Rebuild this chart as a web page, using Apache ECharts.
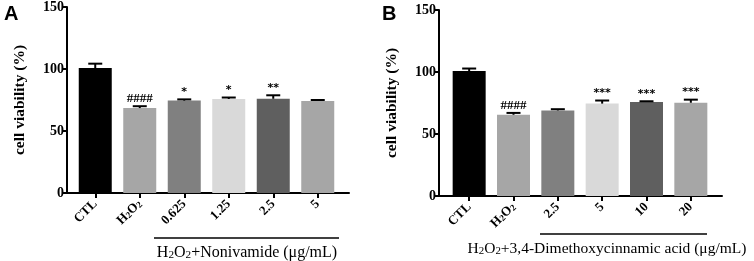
<!DOCTYPE html>
<html>
<head>
<meta charset="utf-8">
<script src="https://cdn.jsdelivr.net/npm/echarts@6/dist/echarts.min.js"></script>
<style>
  html, body { margin: 0; padding: 0; background: #fff; }
  #chart { width: 754px; height: 261px; }
</style>
</head>
<body>
<div id="chart"></div>
<script>
// panel A: nonivamide
var catsA = ['CTL', 'H2O2', '0.625', '1.25', '2.5', '5'];
var valsA = [100.8, 68.5, 74.5, 75.8, 76, 74.2];
var errsA = [3.5, 1.5, 1, 1.2, 2.8, 0.8];
var sigA = ['', '####', '*', '*', '**', ''];

// panel B: 3,4-dimethoxycinnamic acid
var catsB = ['CTL', 'H2O2', '2.5', '5', '10', '20'];
var valsB = [100.8, 65.5, 69, 74.5, 75.8, 75.2];
var errsB = [2, 1.5, 1, 2.5, 0.6, 2.5];
var sigB = ['', '####', '', '***', '***', '***'];

var yTicks = [0, 50, 100, 150];
var barColors = ['#000000', '#a6a6a6', '#808080', '#d9d9d9', '#5f5f5f', '#a6a6a6'];

var serif = '"Liberation Serif", "Times New Roman", serif';

function catLabel(v) {
    if (v === 'H2O2') return '{b|H}{s|2}{b|O}{s|2}';
    return '{b|' + v + '}';
}
var labelRich = {
    b: { fontFamily: serif, fontWeight: 'bold', fontSize: 13, color: '#000' },
    s: { fontFamily: serif, fontWeight: 'bold', fontSize: 9, color: '#000', verticalAlign: 'bottom' }
};

function frameAxes(gridIdx) {
    return {
        x: {
            type: 'value', gridIndex: gridIdx, min: 0, max: 1,
            axisLine: { show: true, onZero: false, lineStyle: { color: '#000', width: 2 } },
            axisTick: { show: false }, axisLabel: { show: false }, splitLine: { show: false }
        },
        y: {
            type: 'value', gridIndex: gridIdx, min: yTicks[0], max: yTicks[yTicks.length - 1], interval: 50,
            name: 'cell viability (%)', nameLocation: 'middle', nameGap: 39, nameRotate: 90,
            nameTextStyle: { fontFamily: serif, fontWeight: 'bold', fontSize: 15.5, color: '#000' },
            axisLine: { show: true, lineStyle: { color: '#000', width: 2 } },
            axisTick: { show: true, length: 4, lineStyle: { color: '#000', width: 2 } },
            axisLabel: { fontFamily: serif, fontWeight: 'bold', fontSize: 14, color: '#000', margin: 3 },
            splitLine: { show: false }
        }
    };
}

function catAxes(gridIdx, cats) {
    return {
        x: {
            type: 'category', gridIndex: gridIdx, data: cats,
            axisLine: { show: false },
            axisTick: { show: true, alignWithLabel: true, length: 5, lineStyle: { color: '#000', width: 2 } },
            axisLabel: { rotate: 45, margin: 9, formatter: catLabel, rich: labelRich }
        },
        y: {
            type: 'value', gridIndex: gridIdx, min: 0, max: 150, show: false
        }
    };
}

var fA = frameAxes(0), cA = catAxes(1, catsA), fB = frameAxes(2), cB = catAxes(3, catsB);

function barSeries(axisIdx, vals) {
    return {
        type: 'bar', xAxisIndex: axisIdx, yAxisIndex: axisIdx, barWidth: 33,
        data: vals.map(function (v, i) { return { value: v, itemStyle: { color: barColors[i] } }; }),
        silent: true
    };
}

function errSeries(axisIdx, vals, errs, sig) {
    return {
        type: 'custom', xAxisIndex: axisIdx, yAxisIndex: axisIdx, silent: true, z: 5,
        data: vals.map(function (v, i) { return [i, v, errs[i]]; }),
        renderItem: function (params, api) {
            var i = api.value(0), v = api.value(1), e = api.value(2);
            var base = api.coord([i, v]);
            var top = api.coord([i, v + e]);
            var half = 7;
            var children = [
                { type: 'line', shape: { x1: base[0], y1: base[1], x2: top[0], y2: top[1] },
                  style: { stroke: '#000', lineWidth: 2 } },
                { type: 'line', shape: { x1: top[0] - half, y1: top[1], x2: top[0] + half, y2: top[1] },
                  style: { stroke: '#000', lineWidth: 2 } }
            ];
            if (sig[i]) {
                var hash = sig[i].charAt(0) === '#';
                children.push({
                    type: 'text',
                    style: {
                        x: top[0], y: top[1] - (hash ? 1 : 2), text: sig[i],
                        align: 'center', verticalAlign: 'bottom',
                        fontFamily: hash ? serif : '"DejaVu Sans", sans-serif',
                        fontWeight: 'bold', fontSize: hash ? 13 : 11, fill: '#000'
                    }
                });
            }
            return { type: 'group', children: children };
        }
    };
}

function captionRich(size) {
    return {
        n: { fontFamily: serif, fontSize: size, color: '#000' },
        s: { fontFamily: serif, fontSize: size * 0.7, color: '#000', verticalAlign: 'bottom' }
    };
}

var option = {
    animation: false,
    grid: [
        { left: 67, top: 7, width: 282, height: 186 },
        { left: 73, top: 7, width: 267, height: 186 },
        { left: 439, top: 10, width: 283, height: 186 },
        { left: 447, top: 10, width: 266, height: 186 }
    ],
    xAxis: [fA.x, cA.x, fB.x, cB.x],
    yAxis: [fA.y, cA.y, fB.y, cB.y],
    series: [
        barSeries(1, valsA), errSeries(1, valsA, errsA, sigA),
        barSeries(3, valsB), errSeries(3, valsB, errsB, sigB)
    ],
    graphic: [
        { type: 'text', left: 4, top: 4, style: { text: 'A', font: 'bold 20px "Liberation Sans", Arial, sans-serif', fill: '#000' } },
        { type: 'text', left: 382, top: 4, style: { text: 'B', font: 'bold 20px "Liberation Sans", Arial, sans-serif', fill: '#000' } },
        { type: 'line', shape: { x1: 154, y1: 238, x2: 339, y2: 238 }, style: { stroke: '#000', lineWidth: 1.5 } },
        { type: 'line', shape: { x1: 540, y1: 234, x2: 707, y2: 234 }, style: { stroke: '#000', lineWidth: 1.5 } },
        { type: 'text', x: 247, y: 253, style: {
            text: '{n|H}{s|2}{n|O}{s|2}{n|+Nonivamide (μg/mL)}', rich: captionRich(16),
            align: 'center', verticalAlign: 'middle' } },
        { type: 'text', x: 607, y: 249, style: {
            text: '{n|H}{s|2}{n|O}{s|2}{n|+3,4-Dimethoxycinnamic acid (μg/mL)}', rich: captionRich(15.5),
            align: 'center', verticalAlign: 'middle' } }
    ]
};

var chart = echarts.init(document.getElementById('chart'));
chart.setOption(option);
</script>
</body>
</html>
